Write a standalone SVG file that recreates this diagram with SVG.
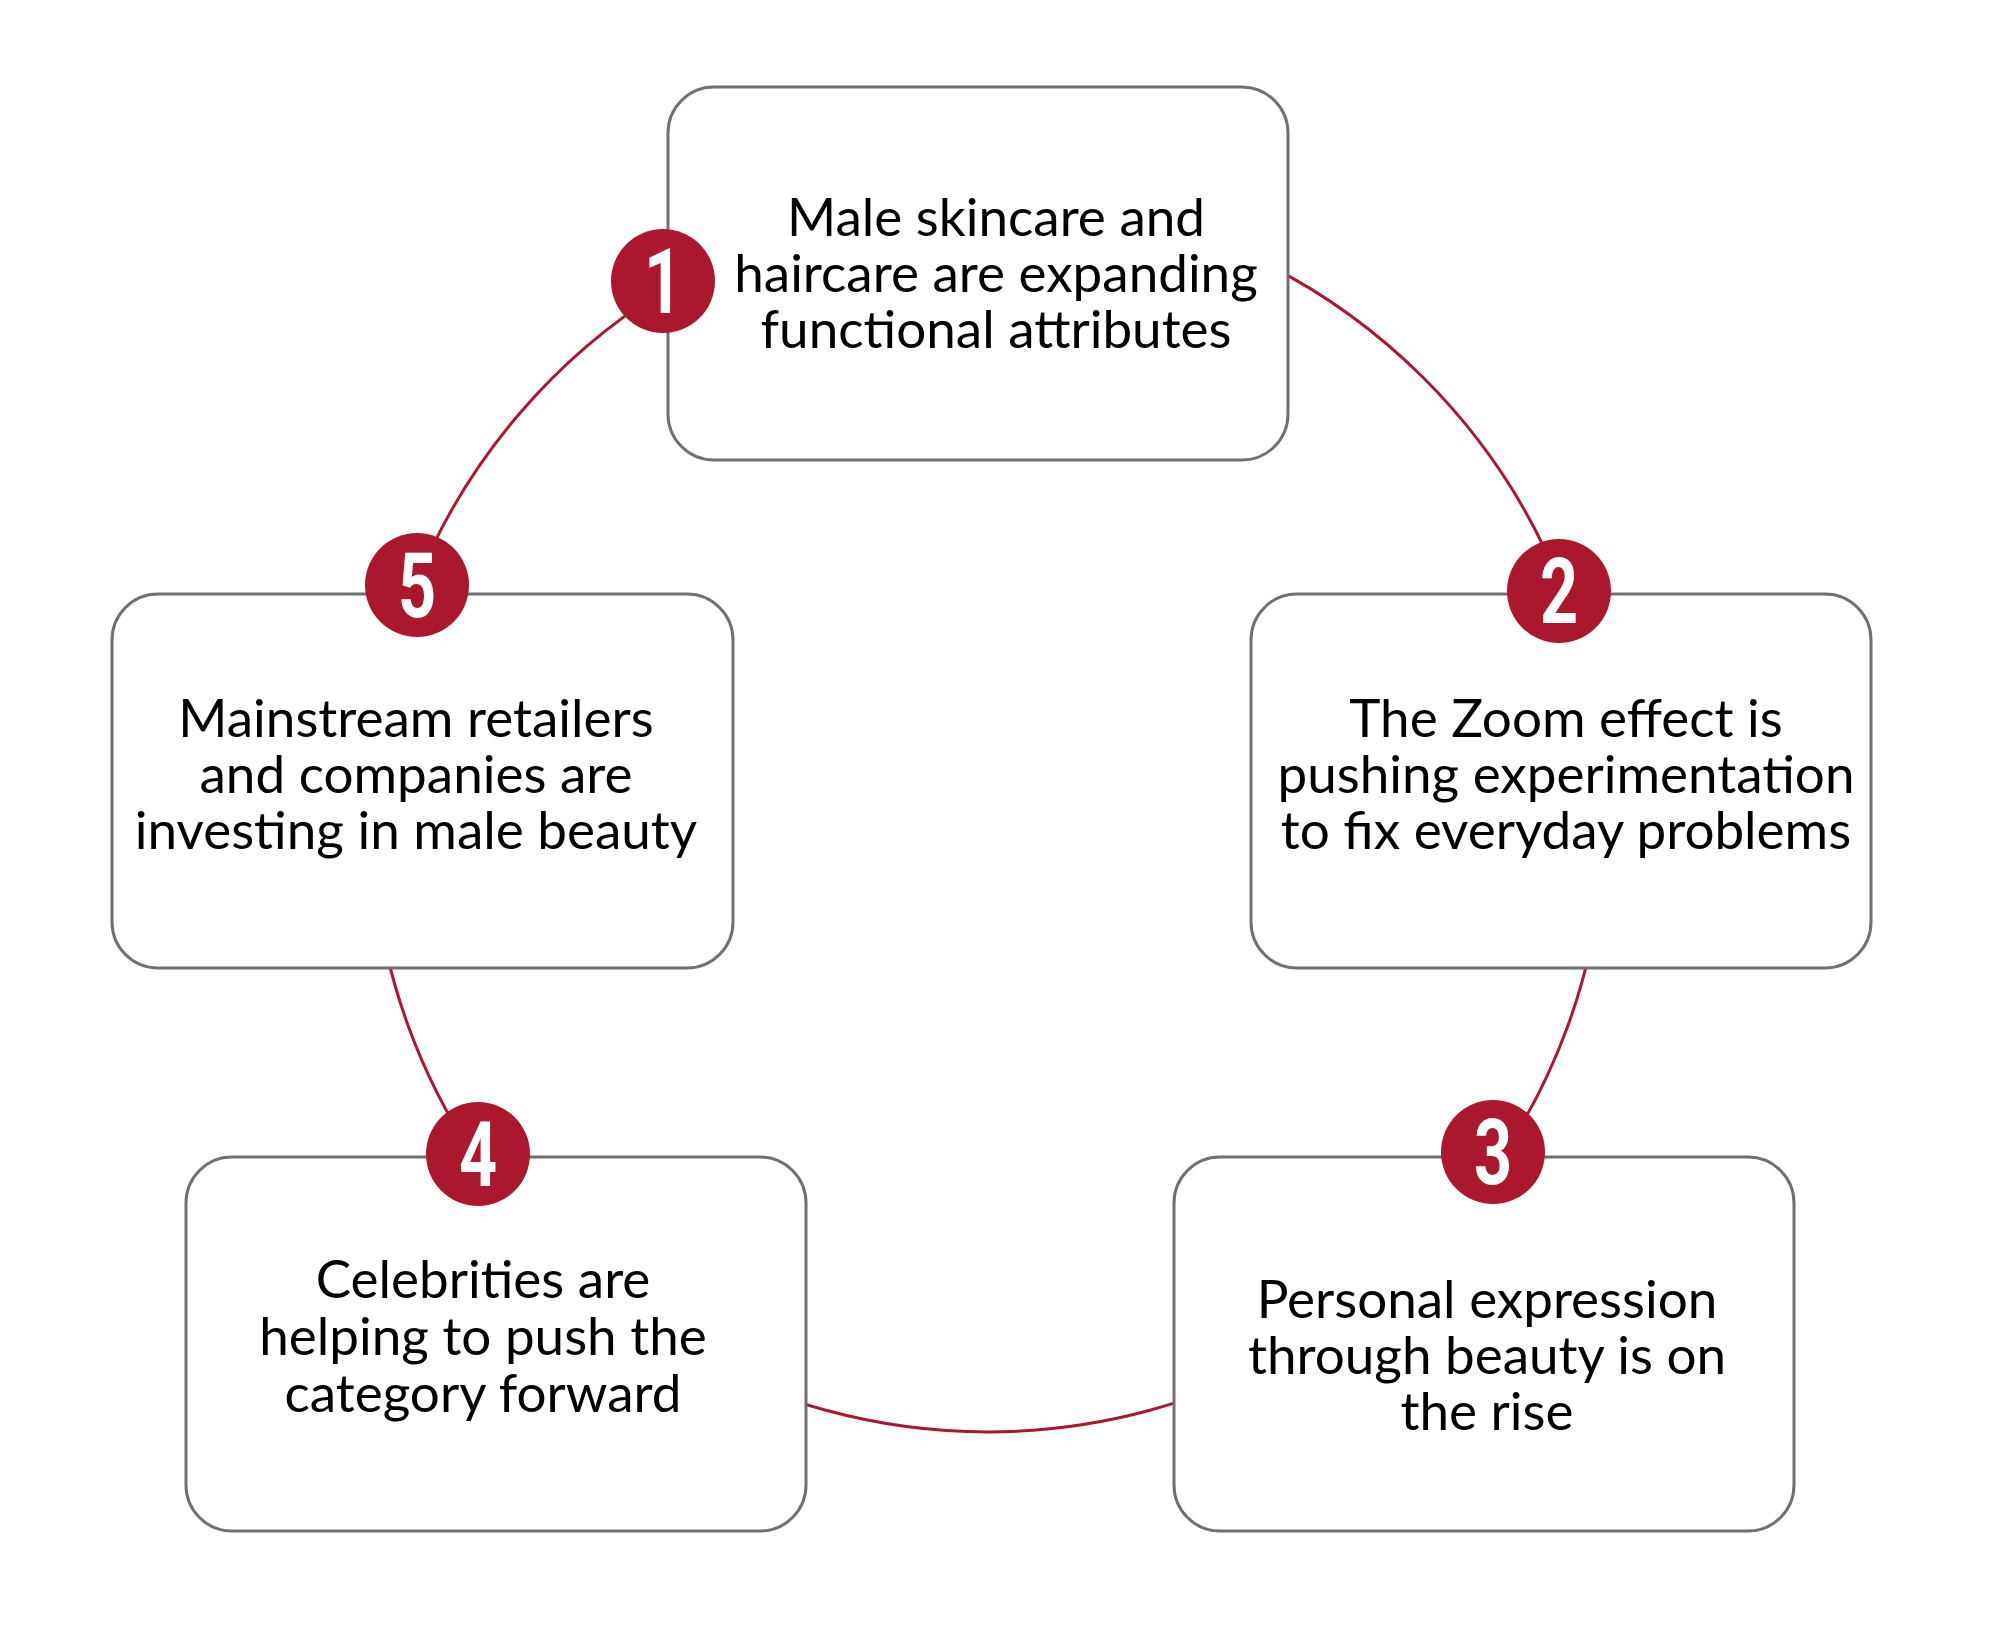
<svg xmlns="http://www.w3.org/2000/svg" width="2000" height="1638" viewBox="0 0 2000 1638">
<style>
.box{fill:#fff;stroke:#707070;stroke-width:3}
.lbl{font-family:Lato,"Open Sans",sans-serif;font-size:53px;fill:#000;text-anchor:middle}
.badge{fill:#AB182D}
.num{font-family:Roboto,"Liberation Sans",sans-serif;font-weight:700;font-size:90px;fill:#fff;text-anchor:middle}
.conn{fill:none;stroke:#AB182D;stroke-width:3}
</style>
<rect width="2000" height="1638" fill="#fff"/>
<g id="connectors">
<path class="conn" d="M 415.7 584.5 A 617 617 0 0 1 667.1 288.0"/>
<path class="conn" d="M 667.1 288.0 A 617 617 0 0 1 1562.4 589.7"/>
<path class="conn" d="M 1562.4 589.7 A 617 617 0 0 1 1501.5 1157.0"/>
<path class="conn" d="M 1501.5 1157.0 A 617 617 0 0 1 473.9 1156.1"/>
<path class="conn" d="M 473.9 1156.1 A 617 617 0 0 1 415.7 584.5"/>
</g>
<g id="node1">
<rect class="box" x="668" y="87" width="620" height="373" rx="46"/>
<circle class="badge" cx="663" cy="281" r="52"/>
<text class="num" transform="translate(663 313) scale(0.74 1)">1</text>
<text class="lbl" x="996" y="236">Male skincare and</text>
<text class="lbl" x="996" y="292">haircare are expanding</text>
<text class="lbl" x="996" y="348">functional attributes</text>
</g>
<g id="node2">
<rect class="box" x="1251" y="594" width="620" height="374" rx="46"/>
<circle class="badge" cx="1559" cy="591" r="52"/>
<text class="num" transform="translate(1559 623) scale(0.74 1)">2</text>
<text class="lbl" x="1566" y="737">The Zoom effect is</text>
<text class="lbl" x="1566" y="793">pushing experimentation</text>
<text class="lbl" x="1566" y="849">to fix everyday problems</text>
</g>
<g id="node3">
<rect class="box" x="1174" y="1157" width="620" height="374" rx="46"/>
<circle class="badge" cx="1493" cy="1152" r="52"/>
<text class="num" transform="translate(1493 1184) scale(0.74 1)">3</text>
<text class="lbl" x="1487" y="1318">Personal expression</text>
<text class="lbl" x="1487" y="1374">through beauty is on</text>
<text class="lbl" x="1487" y="1430">the rise</text>
</g>
<g id="node4">
<rect class="box" x="186" y="1157" width="620" height="374" rx="46"/>
<circle class="badge" cx="478" cy="1154" r="52"/>
<text class="num" transform="translate(478 1186) scale(0.74 1)">4</text>
<text class="lbl" x="483" y="1298">Celebrities are</text>
<text class="lbl" x="483" y="1355">helping to push the</text>
<text class="lbl" x="483" y="1412">category forward</text>
</g>
<g id="node5">
<rect class="box" x="112" y="594" width="621" height="374" rx="46"/>
<circle class="badge" cx="417" cy="585" r="52"/>
<text class="num" transform="translate(417 617) scale(0.74 1)">5</text>
<text class="lbl" x="416" y="737">Mainstream retailers</text>
<text class="lbl" x="416" y="793">and companies are</text>
<text class="lbl" x="416" y="849">investing in male beauty</text>
</g>
</svg>
